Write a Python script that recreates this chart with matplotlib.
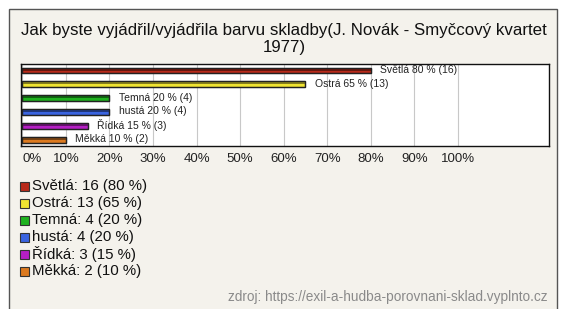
import matplotlib.pyplot as plt
from matplotlib.patches import Rectangle
from matplotlib.colors import to_rgb

plt.rcParams['font.family'] = ['Liberation Sans', 'DejaVu Sans']

categories = ["Světlá", "Ostrá", "Temná", "hustá", "Řídká", "Měkká"]
counts = [16, 13, 4, 4, 3, 2]
percents = [80, 65, 20, 20, 15, 10]
colors = ["#b82a1a", "#f0e432", "#1fb21f", "#3a64e0", "#b51fc4", "#dc7a20"]
ticks = [0, 10, 20, 30, 40, 50, 60, 70, 80, 90, 100]
tick_labels = [f"{t}%" for t in ticks]

title = "Jak byste vyjádřil/vyjádřila barvu skladby(J. Novák - Smyčcový kvartet\n1977)"
source = "zdroj: https://exil-a-hudba-porovnani-sklad.vyplnto.cz"

W, H = 561, 309
fig = plt.figure(figsize=(W / 100, H / 100), dpi=100)
fig.patch.set_facecolor("white")

# beige panel with dark border
panel = Rectangle((9 / W, -0.05), 548 / W, 1.05 - 9 / H, transform=fig.transFigure,
                  facecolor="#f4f2ec", edgecolor="#555555", linewidth=1.0, zorder=-5)
fig.patches.append(panel)

fig.text(284 / W, 1 - 39 / H, title, ha="center", va="center", fontsize=12.2,
         color="#111111", linespacing=1.12)

ax = fig.add_axes([21 / W, 1 - 146 / H, 528 / W, 82 / H])
ax.set_zorder(2)
ax.set_facecolor("white")
ypos = list(range(len(categories)))
dark = [tuple(0.55 * v for v in to_rgb(c)) for c in colors]

# bars with a darker top face for the 3D look
ax.barh(ypos, percents, height=0.42, color=colors, edgecolor="#222222",
        linewidth=0.9, zorder=3)
ax.barh([y - 0.1 for y in ypos], percents, height=0.2, color=dark,
        linewidth=0, zorder=3.5)
ax.barh(ypos, percents, height=0.42, color="none", edgecolor="#222222",
        linewidth=0.9, zorder=3.6)
for y, cat, p, c in zip(ypos, categories, percents, counts):
    ax.text(p + 2.2, y - 0.05, f"{cat} {p} % ({c})", va="center", ha="left",
            fontsize=7.5, color="#222222", zorder=4)

ax.set_xlim(-0.3, 120.9)
ax.set_ylim(5.45, -0.47)
ax.set_yticks([])
ax.set_xticks(ticks)
ax.set_xticklabels(tick_labels, fontsize=9.5, color="#222222")
ax.get_xticklabels()[0].set_ha("left")
ax.tick_params(axis="x", length=0, pad=5)
ax.grid(axis="x", color="#c8c8c8", linewidth=0.8, zorder=0)
for s in ax.spines.values():
    s.set_color("#111111")
    s.set_linewidth(1.0)

# legend
for i, (cat, c, p, col) in enumerate(zip(categories, counts, percents, colors)):
    yc = 1 - (186 + 17 * i) / H
    fig.patches.append(Rectangle((20 / W, yc - 4.5 / H), 9 / W, 9 / H,
                                 transform=fig.transFigure, facecolor=col,
                                 edgecolor="#333333", linewidth=0.8))
    fig.text(32 / W, yc, f"{cat}: {c} ({p} %)", ha="left", va="center",
             fontsize=10.8, color="#111111")

fig.text(547 / W, 1 - 297 / H, source, ha="right", va="center", fontsize=9.8,
         color="#8a8a8a")

fig.savefig("out.png", dpi=100)
